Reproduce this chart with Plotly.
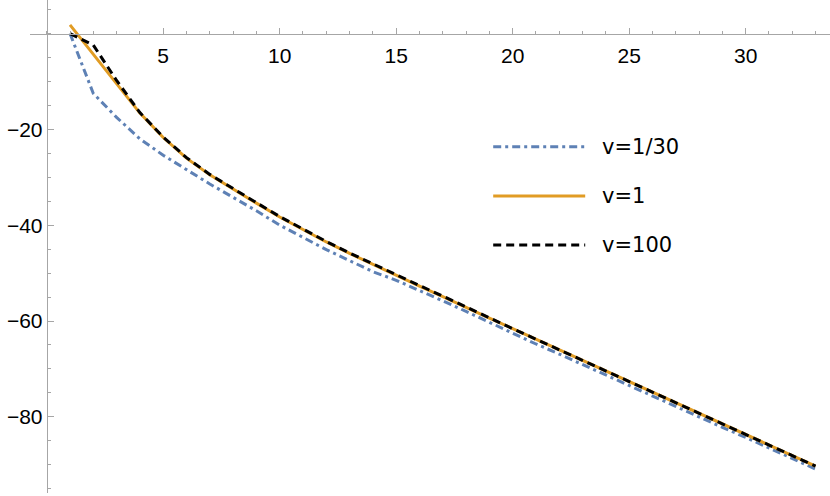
import plotly.graph_objects as go

# data
x_vals = list(range(1, 34))

v_1_30 = [0, -12.5, -17.5, -22.0, -25.4, -28.4, -31.4, -34.2, -37.0, -40.0,
          -42.6, -45.1, -47.4, -49.7, -51.5, -53.6, -55.8, -58.0, -60.3, -62.6,
          -64.8, -66.9, -69.1, -71.3, -73.4, -75.6, -77.8, -80.0, -82.2, -84.3,
          -86.5, -88.7, -90.9]

v_1 = [1.8, -4.3, -10.3, -16.6, -21.7, -26.0, -29.5, -32.5, -35.4, -38.3,
       -40.9, -43.5, -45.9, -48.2, -50.4, -52.7, -54.9, -57.2, -59.4, -61.6,
       -63.8, -66.0, -68.2, -70.4, -72.6, -74.8, -77.0, -79.2, -81.4, -83.6,
       -85.8, -88.0, -90.3]

v_100 = [0, -2.4, -9.8, -16.5, -21.6, -25.9, -29.4, -32.4, -35.3, -38.2,
         -40.8, -43.4, -45.8, -48.1, -50.3, -52.6, -54.8, -57.1, -59.4, -61.6,
         -63.8, -66.0, -68.2, -70.4, -72.6, -74.8, -77.0, -79.2, -81.4, -83.6,
         -85.8, -88.0, -90.3]

x_ticks = [5, 10, 15, 20, 25, 30]
y_ticks = [-20, -40, -60, -80]
names = ["v=1/30", "v=1", "v=100"]

x_range = [-0.717, 33.62]
y_range = [-95.9, 7.0]
axis_col = "#a6a6a6"
font = dict(family="Liberation Sans, Arial, sans-serif", size=21, color="black")
leg_font = dict(family="DejaVu Sans, sans-serif", size=21, color="black")

styles = [
    dict(color="#5E81B5", width=3, dash="8px,4px,3px,4px"),
    dict(color="#E19C24", width=3),
    dict(color="black", width=3, dash="8px,5px"),
]

fig = go.Figure()
for ys, nm, st in zip([v_1_30, v_1, v_100], names, styles):
    fig.add_trace(go.Scatter(x=x_vals, y=ys, mode="lines", name=nm, line=st))

# axes cross at the origin, Mathematica style
fig.update_xaxes(
    range=x_range, anchor="free",
    position=(0 - y_range[0]) / (y_range[1] - y_range[0]),
    showline=True, linecolor=axis_col, linewidth=1,
    showgrid=False, zeroline=False,
    tickvals=x_ticks, ticks="inside", ticklen=6, tickcolor=axis_col,
    minor=dict(ticks="inside", ticklen=3, dtick=1, tick0=0, tickcolor=axis_col),
    ticklabelstandoff=3, tickfont=font,
)
fig.update_yaxes(
    range=y_range, anchor="free",
    position=(0 - x_range[0]) / (x_range[1] - x_range[0]),
    showline=True, linecolor=axis_col, linewidth=1,
    showgrid=False, zeroline=False,
    tickvals=y_ticks, ticks="inside", ticklen=6, tickcolor=axis_col,
    minor=dict(ticks="inside", ticklen=3, dtick=5, tick0=0, tickcolor=axis_col),
    tickfont=font,
)

# legend drawn by hand so the line samples can be as long as in the original
leg_y = [0.7025, 0.6024, 0.503]
for yy, nm, st in zip(leg_y, names, styles):
    fig.add_shape(type="line", xref="paper", yref="paper",
                  x0=0.579, x1=0.694, y0=yy, y1=yy,
                  line=dict(color=st["color"], width=3, dash=st.get("dash", "solid")))
    fig.add_annotation(x=0.7125, y=yy, xref="paper", yref="paper",
                       text=nm, showarrow=False, xanchor="left", yanchor="middle",
                       font=leg_font)

fig.update_layout(
    width=830, height=496,
    margin=dict(l=30, r=0, t=0, b=3),
    plot_bgcolor="white", paper_bgcolor="white",
    showlegend=False,
)

fig.write_html("out.html", config={"displayModeBar": False},
               post_script="document.body.style.margin='0';")
